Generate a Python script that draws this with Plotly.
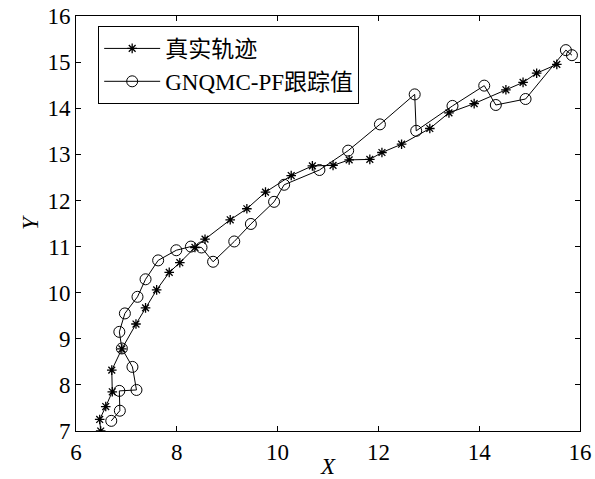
import plotly.graph_objects as go

true_x = [6.49, 6.47, 6.59, 6.72, 6.71, 6.91, 7.19, 7.38, 7.60, 7.85, 8.06, 8.36, 8.56, 9.06, 9.39,
          9.76, 10.27, 10.69, 11.10, 11.42, 11.83, 12.07, 12.46, 13.02, 13.40, 13.90, 14.53, 14.87,
          15.14, 15.54]
true_y = [7.00, 7.25, 7.53, 7.85, 8.32, 8.78, 9.32, 9.67, 10.06, 10.44, 10.65, 10.98, 11.16, 11.58,
          11.82, 12.18, 12.54, 12.75, 12.76, 12.88, 12.89, 13.04, 13.22, 13.56, 13.90, 14.10, 14.40,
          14.56, 14.76, 14.95]

est_x = [6.70, 6.87, 6.86, 7.20, 7.12, 6.91, 6.86, 6.97, 7.22, 7.38, 7.63, 7.99, 8.28, 8.49, 8.72,
         9.14, 9.47, 9.93, 10.13, 10.83, 11.40, 12.03, 12.72, 12.75, 13.47, 14.10, 14.33, 14.92,
         15.72, 15.84]
est_y = [7.22, 7.44, 7.87, 7.89, 8.39, 8.79, 9.15, 9.55, 9.91, 10.29, 10.70, 10.92, 11.00, 10.98,
         10.67, 11.11, 11.49, 11.97, 12.34, 12.66, 13.08, 13.65, 14.30, 13.51, 14.05, 14.49, 14.07,
         14.20, 15.26, 15.15]

names = ["真实轨迹", "GNQMC-PF跟踪值"]
x_ticks = [6, 8, 10, 12, 14, 16]
y_ticks = [7, 8, 9, 10, 11, 12, 13, 14, 15, 16]

FONT = "Liberation Serif, Times New Roman, Noto Sans CJK SC, serif"

fig = go.Figure()
fig.add_trace(go.Scatter(
    x=true_x, y=true_y, mode="lines+markers", name=names[0],
    line=dict(color="black", width=1),
    marker=dict(symbol="asterisk-open", size=8, color="black", line=dict(color="black", width=1.3)),
))
fig.add_trace(go.Scatter(
    x=est_x, y=est_y, mode="lines+markers", name=names[1],
    line=dict(color="black", width=1),
    marker=dict(symbol="circle-open", size=11, color="black", line=dict(color="black", width=1)),
))

axis_common = dict(
    showgrid=False, zeroline=False, showline=True, linecolor="black", linewidth=1,
    mirror="allticks", ticks="inside", ticklen=5, tickcolor="black", tickwidth=1,
    tickfont=dict(family=FONT, size=23, color="black"), automargin=False,
)

fig.update_layout(
    width=595, height=479,
    margin=dict(l=76, r=15, t=16, b=48),
    paper_bgcolor="white", plot_bgcolor="white",
    font=dict(family=FONT, color="black"),
    xaxis=dict(range=[6, 16], tickvals=x_ticks, ticktext=[str(v) for v in x_ticks],
               title=dict(text="<i>X</i>", font=dict(family=FONT, size=23), standoff=0),
               **axis_common),
    yaxis=dict(range=[7, 16], tickvals=y_ticks, ticktext=[str(v) for v in y_ticks],
               title=dict(text="<i>Y</i>", font=dict(family=FONT, size=23), standoff=2),
               **axis_common),
    legend=dict(
        x=0.044, y=0.976, xanchor="left", yanchor="top",
        bgcolor="white", bordercolor="black", borderwidth=1,
        font=dict(family=FONT, size=23, color="black"),
        itemwidth=56, tracegroupgap=0,
    ),
    showlegend=True,
)

fig.write_html("out.html")
